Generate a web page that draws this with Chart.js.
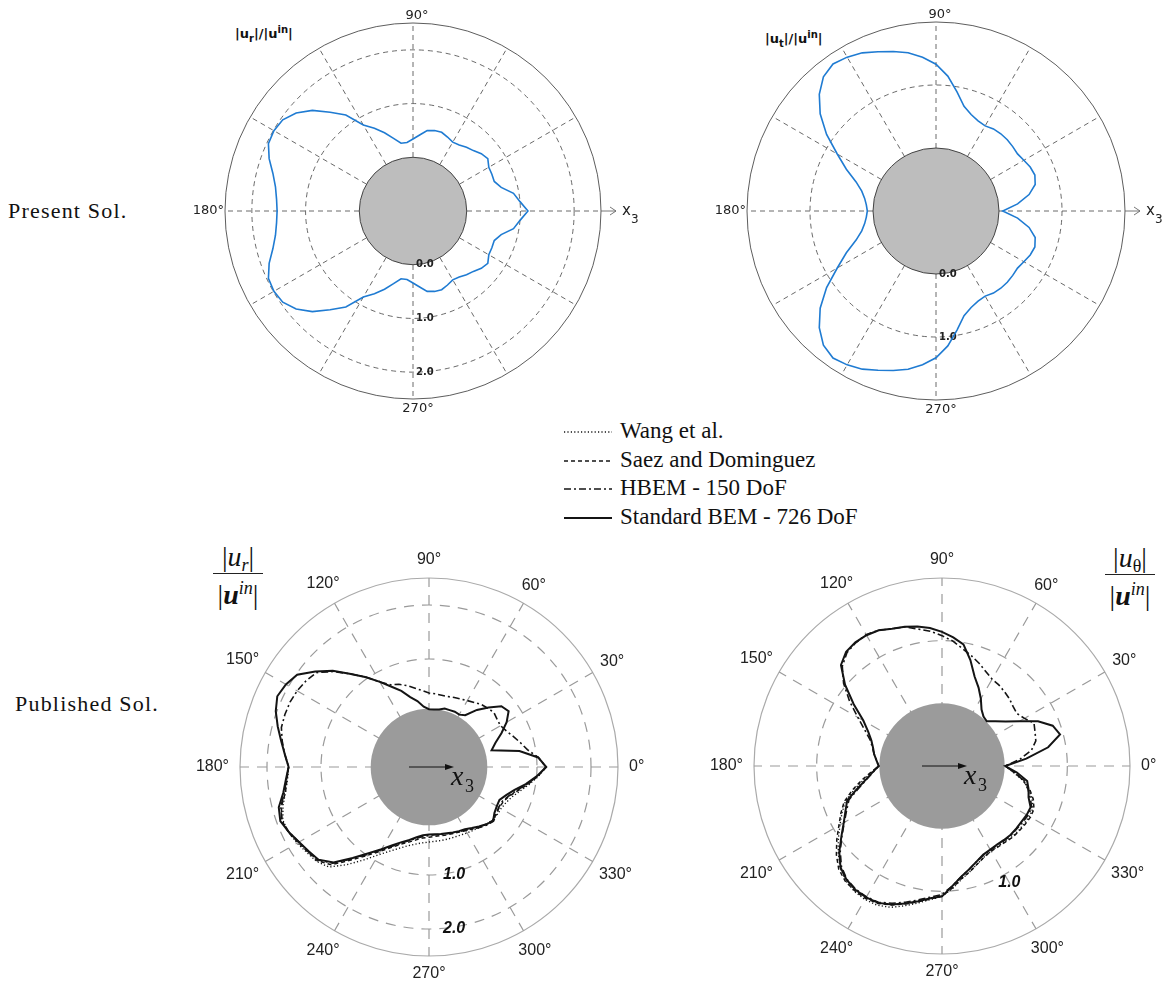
<!DOCTYPE html>
<html>
<head>
<meta charset="utf-8">
<title>Displacement amplitude around the cavity</title>
<script src="https://cdn.jsdelivr.net/npm/chart.js@4.4.0/dist/chart.umd.min.js"></script>
<style>
  html, body { margin: 0; padding: 0; width: 1165px; height: 990px; overflow: hidden; background: #fff; }
  .box { position: absolute; }
  .side { position: absolute; font-family: "Liberation Serif", serif; font-size: 22px; letter-spacing: 1.2px; color: #111; }
  .ptitle { position: absolute; font-family: "DejaVu Sans", sans-serif; font-weight: bold; font-size: 13px; color: #111; white-space: nowrap; }
  .ptitle .lo { font-size: 10px; position: relative; top: 4px; }
  .ptitle .hi { font-size: 10px; position: relative; top: -5px; }
  .frac { position: absolute; font-family: "Liberation Serif", serif; font-size: 28px; color: #111; text-align: center; }
  .frac .num, .frac .den { position: absolute; left: -6px; right: -6px; line-height: 28px; white-space: nowrap; }
  .frac .bar { position: absolute; left: 0; right: 0; height: 1.4px; background: #222; }
  .frac .lo { font-size: 18px; position: relative; top: 5px; }
  .frac .hi { font-size: 18px; font-style: italic; position: relative; top: -10px; }
  #legend { position: absolute; left: 560px; top: 418px; font-family: "Liberation Serif", serif; font-size: 23px; color: #111; }
  #legend .item { position: absolute; left: 0; height: 26px; white-space: nowrap; }
  #legend canvas { position: absolute; left: 2px; top: 0; }
  #legend span { position: absolute; left: 60px; top: 0; line-height: 26px; }
</style>
</head>
<body>
<div class="side" style="left:8px; top:198px">Present Sol.</div>
<div class="side" style="left:15px; top:691px">Published Sol.</div>

<div class="ptitle" style="left:235px; top:26px">|u<span class="lo">r</span>|/|u<span class="hi">in</span>|</div>
<div class="ptitle" style="left:765px; top:31px">|u<span class="lo">t</span>|/|u<span class="hi">in</span>|</div>

<div class="frac" style="left:213px; top:540px; width:50px">
  <div class="num" style="top:3px">|<i>u</i><span class="lo"><i>r</i></span>|</div>
  <div class="bar" style="top:33px"></div>
  <div class="den" style="top:41px">|<b><i>u</i></b><span class="hi">in</span>|</div>
</div>
<div class="frac" style="left:1105px; top:541px; width:50px">
  <div class="num" style="top:3px">|<i>u</i><span class="lo">θ</span>|</div>
  <div class="bar" style="top:33px"></div>
  <div class="den" style="top:41px">|<b><i>u</i></b><span class="hi">in</span>|</div>
</div>

<div id="legend"></div>

<div class="box" id="presentUrBox"><canvas></canvas></div>
<div class="box" id="presentUtBox"><canvas></canvas></div>
<div class="box" id="publishedUrBox"><canvas></canvas></div>
<div class="box" id="publishedUtBox"><canvas></canvas></div>

<script>
// ---- categories: polar angle in degrees, every 5 deg ----
const ANGLE_STEP = 5;
const ANGLES = Array.from({ length: 360 / ANGLE_STEP }, (_, i) => i * ANGLE_STEP);
const BOTTOM_ANGLE_LABELS = [0, 30, 60, 90, 120, 150, 180, 210, 240, 270, 300, 330];

// ---- Present Sol. (0..355 deg) ----
const presentUr = [
  1.14, 1.00, 0.90, 0.70, 0.61, 0.62, 0.63, 0.70, 0.66, 0.59, 0.55, 0.50,
  0.48, 0.52, 0.56, 0.55, 0.52, 0.42, 0.34, 0.28, 0.28, 0.40, 0.55, 0.70,
  0.85, 1.18, 1.40, 1.65, 1.84, 1.96, 1.99, 1.97, 1.85, 1.70, 1.60, 1.55,
  1.53, 1.55, 1.60, 1.70, 1.85, 1.97, 1.99, 1.96, 1.84, 1.65, 1.40, 1.18,
  0.85, 0.70, 0.55, 0.40, 0.28, 0.28, 0.34, 0.42, 0.52, 0.55, 0.56, 0.52,
  0.48, 0.50, 0.55, 0.59, 0.66, 0.70, 0.63, 0.62, 0.61, 0.70, 0.90, 1.00
];
const presentUt = [
  0.06, 0.30, 0.50, 0.63, 0.67, 0.65, 0.61, 0.58, 0.59, 0.60, 0.60, 0.59,
  0.56, 0.58, 0.63, 0.72, 0.92, 1.15, 1.33, 1.45, 1.55, 1.62, 1.69, 1.77,
  1.82, 1.85, 1.78, 1.62, 1.40, 1.12, 0.81, 0.57, 0.35, 0.22, 0.15, 0.11,
  0.09, 0.11, 0.15, 0.22, 0.35, 0.57, 0.81, 1.12, 1.40, 1.62, 1.78, 1.85,
  1.82, 1.77, 1.69, 1.62, 1.55, 1.45, 1.33, 1.15, 0.92, 0.72, 0.63, 0.58,
  0.56, 0.59, 0.60, 0.60, 0.59, 0.58, 0.61, 0.65, 0.67, 0.63, 0.50, 0.30
];

// ---- Published Sol., |u_r| (0..355 deg) ----
const bemUr = [
  1.17, 1.03, 0.70, 0.20, 0.31, 0.48, 0.66, 0.80, 0.75, 0.56, 0.38, 0.17,
  0.12, 0.13, 0.12, 0.12, 0.08, 0.07, 0.07, 0.12, 0.24, 0.34, 0.50, 0.64,
  0.82, 1.03, 1.25, 1.52, 1.75, 1.98, 2.06, 2.10, 2.02, 1.90, 1.78, 1.68,
  1.60, 1.66, 1.74, 1.88, 1.93, 1.86, 1.78, 1.72, 1.67, 1.50, 1.20, 0.95,
  0.76, 0.60, 0.48, 0.40, 0.32, 0.27, 0.25, 0.25, 0.26, 0.27, 0.29, 0.31,
  0.33, 0.38, 0.44, 0.50, 0.55, 0.48, 0.45, 0.44, 0.52, 0.64, 0.82, 1.00
];
const hbemUr = [
  1.17, 1.03, 0.85, 0.75, 0.66, 0.58, 0.53, 0.54, 0.57, 0.54, 0.51, 0.46,
  0.42, 0.39, 0.37, 0.35, 0.35, 0.36, 0.37, 0.42, 0.48, 0.56, 0.63, 0.68,
  0.82, 1.03, 1.25, 1.50, 1.72, 1.78, 1.82, 1.84, 1.84, 1.83, 1.76, 1.68,
  1.60, 1.65, 1.72, 1.84, 1.90, 1.86, 1.78, 1.73, 1.68, 1.52, 1.22, 0.97,
  0.77, 0.62, 0.50, 0.41, 0.34, 0.29, 0.27, 0.26, 0.27, 0.28, 0.30, 0.32,
  0.35, 0.40, 0.46, 0.52, 0.56, 0.52, 0.49, 0.50, 0.57, 0.68, 0.84, 1.01
];
// these two were published for the lower half only (180..360 deg)
const saezUrLower = [
  1.60, 1.64, 1.70, 1.83, 1.90, 1.87, 1.80, 1.74, 1.70, 1.56, 1.25, 1.00,
  0.80, 0.64, 0.52, 0.44, 0.37, 0.32, 0.30, 0.29, 0.29, 0.30, 0.31, 0.33,
  0.36, 0.40, 0.45, 0.50, 0.54, 0.52, 0.50, 0.52, 0.58, 0.70, 0.86, 1.02,
  1.17
];
const wangUrLower = [
  1.60, 1.63, 1.70, 1.80, 1.88, 1.87, 1.82, 1.76, 1.72, 1.62, 1.36, 1.10,
  0.88, 0.72, 0.60, 0.51, 0.45, 0.41, 0.39, 0.38, 0.38, 0.38, 0.38, 0.39,
  0.41, 0.43, 0.46, 0.50, 0.53, 0.54, 0.54, 0.57, 0.63, 0.74, 0.88, 1.03,
  1.17
];

// ---- Published Sol., |u_theta| (0..355 deg) ----
const bemUt = [
  0.01, 0.35, 0.72, 0.95, 0.88, 0.69, 0.43, 0.24, 0.11, 0.01, 0.03, 0.10,
  0.24, 0.38, 0.52, 0.75, 0.97, 1.06, 1.14, 1.21, 1.26, 1.30, 1.33, 1.39,
  1.41, 1.41, 1.38, 1.28, 1.02, 0.72, 0.45, 0.30, 0.20, 0.14, 0.10, 0.05,
  0.01, 0.11, 0.23, 0.40, 0.61, 0.70, 0.81, 0.96, 1.14, 1.29, 1.37, 1.41,
  1.42, 1.41, 1.35, 1.27, 1.19, 1.12, 1.08, 0.92, 0.79, 0.70, 0.62, 0.56,
  0.54, 0.53, 0.54, 0.55, 0.55, 0.55, 0.56, 0.56, 0.47, 0.43, 0.38, 0.20
];
const hbemUt = [
  0.01, 0.25, 0.45, 0.55, 0.58, 0.62, 0.52, 0.46, 0.48, 0.52, 0.55, 0.58,
  0.60, 0.66, 0.74, 0.82, 0.90, 1.00, 1.08, 1.16, 1.22, 1.30, 1.33, 1.39,
  1.42, 1.40, 1.36, 1.25, 1.05, 0.80, 0.55, 0.36, 0.22, 0.15, 0.10, 0.05,
  0.01, 0.10, 0.22, 0.38, 0.58, 0.68, 0.80, 0.95, 1.12, 1.27, 1.36, 1.40,
  1.41, 1.40, 1.33, 1.25, 1.17, 1.10, 1.05, 0.92, 0.79, 0.70, 0.62, 0.57,
  0.55, 0.54, 0.55, 0.56, 0.56, 0.57, 0.58, 0.58, 0.50, 0.42, 0.32, 0.16
];
const saezUtLower = [
  0.01, 0.14, 0.30, 0.48, 0.66, 0.78, 0.90, 1.05, 1.20, 1.33, 1.40, 1.43,
  1.44, 1.42, 1.36, 1.28, 1.20, 1.13, 1.08, 0.95, 0.82, 0.74, 0.66, 0.60,
  0.57, 0.57, 0.58, 0.60, 0.61, 0.62, 0.63, 0.62, 0.55, 0.45, 0.33, 0.15,
  0.01
];
const wangUtLower = [
  0.01, 0.12, 0.27, 0.45, 0.64, 0.76, 0.88, 1.02, 1.16, 1.30, 1.39, 1.44,
  1.46, 1.45, 1.40, 1.31, 1.22, 1.14, 1.08, 0.96, 0.83, 0.74, 0.66, 0.60,
  0.57, 0.56, 0.57, 0.59, 0.60, 0.60, 0.61, 0.60, 0.53, 0.43, 0.31, 0.14,
  0.01
];

// ---- line styles ----
const PRESENT_BLUE = "#1f7bd2";
const INK = "#141414";
const STYLES = {
  wang: { name: "Wang et al.", dash: [1.2, 2.2], width: 1.4 },
  saez: { name: "Saez and Dominguez", dash: [4, 3], width: 1.5 },
  hbem: { name: "HBEM - 150 DoF", dash: [7, 3, 2, 3], width: 1.6 },
  bem: { name: "Standard BEM - 726 DoF", dash: [], width: 2 },
};

// radar runs clockwise from startAngle, the figure runs counter-clockwise from 0 deg
function toRadarOrder(values) {
  return values.map((_, j) => values[(values.length - j) % values.length]);
}
const RADAR_LABELS = toRadarOrder(ANGLES).map(String);
function indexOfAngle(deg) {
  return RADAR_LABELS.indexOf(String(((deg % 360) + 360) % 360));
}

function lowerHalfOnly(values) {
  const full = ANGLES.map(() => null);
  const half = ANGLES.length / 2;
  values.forEach((v, i) => { full[(half + i) % ANGLES.length] = v; });
  return full;
}

function radialScale(cfg) {
  const g = cfg.grid;
  return {
    min: -1,
    max: cfg.max,
    startAngle: 90,
    ticks: { display: false, stepSize: 1 },
    pointLabels: { display: false },
    grid: {
      circular: true,
      color: (c) => (c.tick.value <= 0 ? "rgba(0,0,0,0)" : c.tick.value === cfg.max ? g.outer : g.color),
      lineWidth: (c) => (c.tick.value === cfg.max ? g.outerWidth : g.width),
    },
    border: { dash: (c) => (c.tick.value === cfg.max ? [] : g.dash) },
    angleLines: {
      color: g.color,
      lineWidth: (c) => (Number(c.label) % 30 === 0 ? g.width : 0),
      borderDash: g.dash,
    },
  };
}

function at(scale, deg, dist) {
  return scale.getPointPosition(indexOfAngle(deg), dist);
}

const polarDecor = {
  id: "polarDecor",
  beforeDatasetsDraw(chart, args, o) {
    const s = chart.scales.r;
    const ctx = chart.ctx;
    const cx = s.xCenter, cy = s.yCenter, R = s.drawingArea;
    ctx.save();
    // cylinder cross-section
    ctx.beginPath();
    ctx.arc(cx, cy, s.getDistanceFromCenterForValue(o.diskValue), 0, 2 * Math.PI);
    ctx.fillStyle = o.diskFill;
    ctx.fill();
    if (o.diskStroke) {
      ctx.lineWidth = 0.9;
      ctx.strokeStyle = o.diskStroke;
      ctx.stroke();
    }

    if (o.kind === "present") {
      // x3 arrow beyond the outer ring
      const a = at(s, 0, R), b = at(s, 0, R + 15);
      ctx.strokeStyle = "#666";
      ctx.lineWidth = 0.9;
      ctx.beginPath();
      ctx.moveTo(a.x, a.y);
      ctx.lineTo(b.x, b.y);
      ctx.moveTo(b.x - 6, b.y - 4);
      ctx.lineTo(b.x, b.y);
      ctx.lineTo(b.x - 6, b.y + 4);
      ctx.stroke();
      ctx.fillStyle = "#222";
      ctx.textAlign = "left";
      ctx.textBaseline = "alphabetic";
      ctx.font = "15px 'DejaVu Sans'";
      ctx.fillText("x", cx + R + 21, cy + 4);
      ctx.font = "12px 'DejaVu Sans'";
      ctx.fillText("3", cx + R + 30, cy + 12);

      ctx.font = "13px 'DejaVu Sans'";
      let p = at(s, 90, R + 4);
      ctx.textAlign = "center";
      ctx.fillText("90°", p.x + 4, p.y);
      p = at(s, 270, R + 3);
      ctx.textBaseline = "top";
      ctx.fillText("270°", p.x + 5, p.y);
      p = at(s, 180, R + 1);
      ctx.textAlign = "right";
      ctx.textBaseline = "middle";
      ctx.fillText("180°", p.x, p.y);

      ctx.font = "bold 10px 'DejaVu Sans'";
      ctx.textAlign = "left";
      o.tickLabels.forEach((t) => {
        const q = at(s, t.angle, s.getDistanceFromCenterForValue(t.value));
        ctx.fillText(t.text, q.x + 3, q.y);
      });
    } else {
      // x3 arrow through the cavity
      const a = at(s, 180, 20), b = at(s, 0, 25);
      ctx.strokeStyle = "#111";
      ctx.fillStyle = "#111";
      ctx.lineWidth = 1;
      ctx.beginPath();
      ctx.moveTo(a.x, a.y);
      ctx.lineTo(b.x - 6, b.y);
      ctx.stroke();
      ctx.beginPath();
      ctx.moveTo(b.x, b.y);
      ctx.lineTo(b.x - 9, b.y - 3);
      ctx.lineTo(b.x - 9, b.y + 3);
      ctx.closePath();
      ctx.fill();
      ctx.textAlign = "left";
      ctx.textBaseline = "alphabetic";
      ctx.font = "italic 28px 'Liberation Serif'";
      ctx.fillText("x", cx + 22, cy + 18);
      ctx.font = "18px 'Liberation Serif'";
      ctx.fillText("3", cx + 36, cy + 25);

      ctx.font = "16px 'Liberation Sans'";
      ctx.fillStyle = "#222";
      ctx.textAlign = "center";
      ctx.textBaseline = "middle";
      BOTTOM_ANGLE_LABELS.forEach((deg) => {
        const text = deg + "°";
        const w = ctx.measureText(text).width;
        const extra = 0.5 * Math.abs(Math.cos((deg * Math.PI) / 180)) * Math.max(0, w - 14);
        const q = at(s, deg, R + 18 + extra);
        ctx.fillText(text, q.x, q.y);
      });

      ctx.font = "italic bold 16px 'Liberation Sans'";
      ctx.fillStyle = "#111";
      o.tickLabels.forEach((t) => {
        const q = at(s, t.angle, s.getDistanceFromCenterForValue(t.value));
        ctx.textAlign = t.align;
        ctx.fillText(t.text, q.x + t.dx, q.y);
      });
    }
    ctx.restore();
  },
};

function makePolar(id, cfg) {
  const box = document.getElementById(id);
  const M = 60;
  const size = 2 * (cfg.R + M);
  box.style.left = cfg.cx - cfg.R - M + "px";
  box.style.top = cfg.cy - cfg.R - M + "px";
  box.style.width = size + "px";
  box.style.height = size + "px";
  const canvas = box.querySelector("canvas");
  canvas.width = size;
  canvas.height = size;
  return new Chart(canvas, {
    type: "radar",
    data: {
      labels: RADAR_LABELS,
      datasets: cfg.series.map((s) => ({
        label: s.name,
        data: toRadarOrder(s.values),
        borderColor: s.color,
        borderWidth: s.width,
        borderDash: s.dash,
        pointRadius: 0,
        fill: false,
        tension: 0,
        spanGaps: false,
      })),
    },
    options: {
      responsive: false,
      animation: false,
      events: [],
      layout: { padding: M },
      scales: { r: radialScale(cfg) },
      plugins: {
        legend: { display: false },
        tooltip: { enabled: false },
        polarDecor: cfg.decor,
      },
    },
    plugins: [polarDecor],
  });
}

const presentGrid = { color: "#444", outer: "#333", width: 0.8, outerWidth: 0.8, dash: [5, 4] };
const publishedGrid = { color: "#9a9a9a", outer: "#aaa", width: 1.2, outerWidth: 1.2, dash: [10, 8] };

function published(key, values) {
  const st = STYLES[key];
  return { name: st.name, values, color: INK, width: st.width, dash: st.dash };
}

makePolar("presentUrBox", {
  cx: 413, cy: 211, R: 188, max: 2.5, grid: presentGrid,
  series: [{ name: "|u_r|/|u_in|", values: presentUr, color: PRESENT_BLUE, width: 1.6, dash: [] }],
  decor: {
    kind: "present", diskValue: 0, diskFill: "#bdbdbd", diskStroke: "#333",
    tickLabels: [
      { text: "0.0", value: 0, angle: 270 },
      { text: "1.0", value: 1, angle: 270 },
      { text: "2.0", value: 2, angle: 270 },
    ],
  },
});

makePolar("presentUtBox", {
  cx: 936, cy: 211, R: 189, max: 2, grid: presentGrid,
  series: [{ name: "|u_t|/|u_in|", values: presentUt, color: PRESENT_BLUE, width: 1.6, dash: [] }],
  decor: {
    kind: "present", diskValue: 0, diskFill: "#bdbdbd", diskStroke: "#333",
    tickLabels: [
      { text: "0.0", value: 0, angle: 270 },
      { text: "1.0", value: 1, angle: 270 },
    ],
  },
});

makePolar("publishedUrBox", {
  cx: 429, cy: 767, R: 189, max: 2.5, grid: publishedGrid,
  series: [
    published("wang", lowerHalfOnly(wangUrLower)),
    published("saez", lowerHalfOnly(saezUrLower)),
    published("hbem", hbemUr),
    published("bem", bemUr),
  ],
  decor: {
    kind: "published", diskValue: 0.08, diskFill: "#9b9b9b",
    tickLabels: [
      { text: "1.0", value: 1, angle: 270, dx: 14, align: "left" },
      { text: "2.0", value: 2, angle: 270, dx: 14, align: "left" },
    ],
  },
});

makePolar("publishedUtBox", {
  cx: 942, cy: 766, R: 188, max: 2, grid: publishedGrid,
  series: [
    published("wang", lowerHalfOnly(wangUtLower)),
    published("saez", lowerHalfOnly(saezUtLower)),
    published("hbem", hbemUt),
    published("bem", bemUt),
  ],
  decor: {
    kind: "published", diskValue: 0, diskFill: "#9b9b9b",
    tickLabels: [{ text: "1.0", value: 1.15, angle: 300, dx: 0, align: "center" }],
  },
});

// shared legend of the published plots
const legend = document.getElementById("legend");
const LEGEND_ROWS = ["wang", "saez", "hbem", "bem"];
LEGEND_ROWS.forEach((key, i) => {
  const st = STYLES[key];
  const item = document.createElement("div");
  item.className = "item";
  item.style.top = i * 28.5 + "px";
  const c = document.createElement("canvas");
  c.width = 52;
  c.height = 26;
  const g = c.getContext("2d");
  g.strokeStyle = INK;
  g.lineWidth = st.width;
  g.setLineDash(st.dash);
  g.beginPath();
  g.moveTo(2, 14);
  g.lineTo(50, 14);
  g.stroke();
  const label = document.createElement("span");
  label.textContent = st.name;
  item.appendChild(c);
  item.appendChild(label);
  legend.appendChild(item);
});
</script>
</body>
</html>
